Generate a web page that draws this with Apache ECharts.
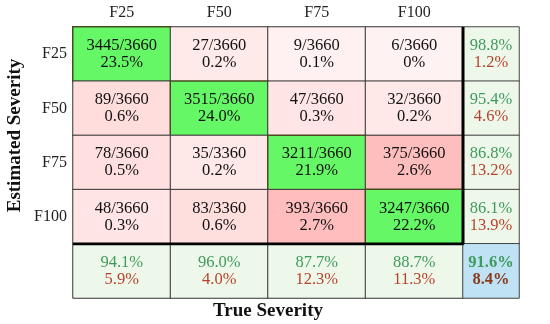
<!DOCTYPE html>
<html><head><meta charset="utf-8">
<script src="https://cdn.jsdelivr.net/npm/echarts@6/dist/echarts.min.js"></script>
<style>html,body{margin:0;padding:0;background:#fff}#c{width:550px;height:324px}</style>
</head><body><div id="c"></div>
<script>
var categories = ['F25', 'F50', 'F75', 'F100'];
// rows = estimated severity, cols = true severity
var counts = [
  [3445, 27, 9, 6],
  [89, 3515, 47, 32],
  [78, 35, 3211, 375],
  [48, 83, 393, 3247]
];
var denoms = [
  [3660, 3660, 3660, 3660],
  [3660, 3660, 3660, 3660],
  [3660, 3360, 3660, 3660],
  [3660, 3360, 3660, 3660]
];
var percents = [
  [23.5, 0.2, 0.1, 0],
  [0.6, 24.0, 0.3, 0.2],
  [0.5, 0.2, 21.9, 2.6],
  [0.3, 0.6, 2.7, 22.2]
];
var rowCorrect = [98.8, 95.4, 86.8, 86.1];
var rowWrong = [1.2, 4.6, 13.2, 13.9];
var colCorrect = [94.1, 96.0, 87.7, 88.7];
var colWrong = [5.9, 4.0, 12.3, 11.3];
var overall = [91.6, 8.4];

var FONT = '"Liberation Serif", "DejaVu Serif", serif';
function fmt(v) { return v === 0 ? '0%' : v.toFixed(1) + '%'; }
function pink(v) {
  var t = Math.min(1, Math.sqrt(v / 400));
  var g = Math.round(250 - t * (250 - 188));
  return 'rgb(255,' + g + ',' + g + ')';
}

var mainData = [];
for (var r = 0; r < 4; r++) {
  for (var c = 0; c < 4; c++) {
    var diag = r === c;
    mainData.push({
      value: [c, r, counts[r][c]],
      label: { formatter: '{a|' + counts[r][c] + '/' + denoms[r][c] + '}\n{a|' + fmt(percents[r][c]) + '}' },
      itemStyle: diag ? { color: '#66f766', borderColor: '#4a4a20', borderWidth: 1.5 } : { color: pink(counts[r][c]) }
    });
  }
}
for (var c2 = 0; c2 < 4; c2++) {
  mainData.push({
    value: [c2, 4, colCorrect[c2]],
    label: { formatter: '{g|' + fmt(colCorrect[c2]) + '}\n{r|' + fmt(colWrong[c2]) + '}' },
    itemStyle: { color: '#eef8ea' }
  });
}
var sideData = [];
for (var r2 = 0; r2 < 4; r2++) {
  sideData.push({
    value: [0, r2, rowCorrect[r2]],
    label: { formatter: '{g|' + fmt(rowCorrect[r2]) + '}\n{r|' + fmt(rowWrong[r2]) + '}' },
    itemStyle: { color: '#eef8ea' }
  });
}
sideData.push({
  value: [0, 4, overall[0]],
  label: { formatter: '{gb|' + fmt(overall[0]) + '}\n{rb|' + fmt(overall[1]) + '}' },
  itemStyle: { color: '#bfe2f4' }
});

var rich = {
  a: { fontFamily: FONT, fontSize: 16.5, color: '#111', lineHeight: 17 },
  g: { fontFamily: FONT, fontSize: 16.5, color: '#3f9a5c', lineHeight: 17 },
  r: { fontFamily: FONT, fontSize: 16.5, color: '#b8432c', lineHeight: 17 },
  gb: { fontFamily: FONT, fontSize: 16.5, color: '#3f9a5c', lineHeight: 17, fontWeight: 'bold' },
  rb: { fontFamily: FONT, fontSize: 16.5, color: '#8a3a1c', lineHeight: 17, fontWeight: 'bold' }
};

var chart = echarts.init(document.getElementById('c'));
chart.setOption({
  animation: false,
  backgroundColor: '#fff',
  grid: [
    { left: 73, right: 87, top: 27, bottom: 26, outerBoundsMode: 'none', containLabel: false },
    { left: 463, right: 31, top: 27, bottom: 26, outerBoundsMode: 'none', containLabel: false },
    { left: 73, right: 87, top: 27, bottom: 80, outerBoundsMode: 'none', containLabel: false }
  ],
  xAxis: [
    { type: 'category', gridIndex: 0, position: 'top', data: categories,
      axisLine: { show: false }, axisTick: { show: false },
      axisLabel: { fontFamily: FONT, fontSize: 16, color: '#222', margin: 6 } },
    { type: 'category', gridIndex: 1, data: [''], show: false },
    { type: 'value', gridIndex: 2, min: 0, max: 1, position: 'bottom',
      axisLine: { show: false }, axisTick: { show: false }, axisLabel: { show: false }, splitLine: { show: false },
      name: 'True Severity', nameLocation: 'middle', nameGap: 58,
      nameTextStyle: { fontFamily: FONT, fontSize: 19, fontWeight: 'bold', color: '#111' } }
  ],
  yAxis: [
    { type: 'category', gridIndex: 0, inverse: true, data: categories.concat(['']),
      axisLine: { show: false }, axisTick: { show: false },
      axisLabel: { fontFamily: FONT, fontSize: 16, color: '#222', margin: 6 } },
    { type: 'category', gridIndex: 1, inverse: true, data: ['', '', '', '', ''], show: false },
    { type: 'value', gridIndex: 2, min: 0, max: 1,
      axisLine: { show: false }, axisTick: { show: false }, axisLabel: { show: false }, splitLine: { show: false },
      name: 'Estimated Severity', nameLocation: 'middle', nameGap: 48, nameRotate: 90,
      nameTextStyle: { fontFamily: FONT, fontSize: 19, fontWeight: 'bold', color: '#111' } }
  ],
  series: [
    { type: 'heatmap', xAxisIndex: 0, yAxisIndex: 0, data: mainData,
      itemStyle: { borderColor: '#333', borderWidth: 1 },
      label: { show: true, rich: rich }, emphasis: { disabled: true } },
    { type: 'heatmap', xAxisIndex: 1, yAxisIndex: 1, data: sideData,
      itemStyle: { borderColor: '#444', borderWidth: 1 },
      label: { show: true, rich: rich }, emphasis: { disabled: true } },
    { type: 'line', xAxisIndex: 2, yAxisIndex: 2, data: [[1, 1], [1, 0], [0, 0]],
      symbol: 'none', silent: true, z: 10,
      lineStyle: { color: '#000', width: 3 } }
  ]
});
</script></body></html>
